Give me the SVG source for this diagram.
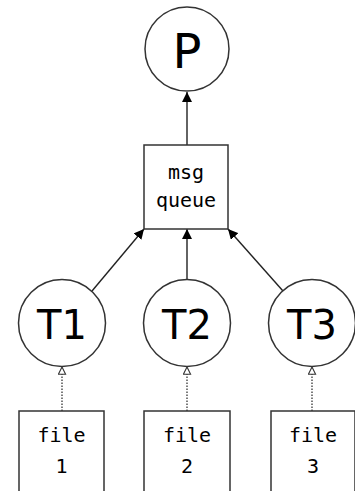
<svg xmlns="http://www.w3.org/2000/svg" width="355" height="491" viewBox="0 0 355 491">
<defs>
<style>
.node{fill:#fff;stroke:#333;stroke-width:1.5}
.big{font-family:"DejaVu Sans",sans-serif;fill:#000;text-anchor:middle;dominant-baseline:central}
.mono{font-family:"DejaVu Sans Mono",monospace;font-size:20px;fill:#000;text-anchor:middle;dominant-baseline:central}
.edge{stroke:#222;stroke-width:1.4;fill:none}
.dot{stroke:#444;stroke-width:1.4;fill:none;stroke-dasharray:1.5 1.5}
</style>
<marker id="solid" viewBox="0 0 10 10" refX="10" refY="5" markerWidth="10" markerHeight="10" markerUnits="userSpaceOnUse" orient="auto">
<path d="M0,0 L10,5 L0,10 Z" fill="#000"/>
</marker>
<marker id="open" viewBox="0 0 10 10" refX="9" refY="5" markerWidth="9" markerHeight="9" markerUnits="userSpaceOnUse" orient="auto">
<path d="M1,1 L9,5 L1,9 Z" fill="#fff" stroke="#333" stroke-width="1.2"/>
</marker>
</defs>
<rect width="355" height="491" fill="#fff"/>
<g id="connectors">
<line class="edge" x1="187" y1="145" x2="187" y2="92" marker-end="url(#solid)"/>
<line class="edge" x1="92" y1="291" x2="144" y2="229" marker-end="url(#solid)"/>
<line class="edge" x1="187" y1="280" x2="187" y2="229" marker-end="url(#solid)"/>
<line class="edge" x1="283" y1="291" x2="228" y2="229" marker-end="url(#solid)"/>
<line class="dot" x1="62" y1="411" x2="62" y2="367" marker-end="url(#open)"/>
<line class="dot" x1="187" y1="411" x2="187" y2="367" marker-end="url(#open)"/>
<line class="dot" x1="312" y1="411" x2="312" y2="367" marker-end="url(#open)"/>
</g>
<g id="P">
<circle class="node" cx="187" cy="49" r="42"/>
<text class="big" x="187" y="51" font-size="48">P</text>
</g>
<g id="msgqueue">
<rect class="node" x="144" y="145" width="84" height="84"/>
<text class="mono" x="186" y="172">msg</text>
<text class="mono" x="186" y="200">queue</text>
</g>
<g id="T1">
<circle class="node" cx="62" cy="323" r="43.5"/>
<text class="big" x="62" y="325" font-size="40">T1</text>
</g>
<g id="T2">
<circle class="node" cx="187" cy="323" r="43.5"/>
<text class="big" x="187" y="325" font-size="40">T2</text>
</g>
<g id="T3">
<circle class="node" cx="312" cy="323" r="43.5"/>
<text class="big" x="312" y="325" font-size="40">T3</text>
</g>
<g id="file1">
<rect class="node" x="19" y="411" width="85" height="90"/>
<text class="mono" x="61.5" y="435">file</text>
<text class="mono" x="61.5" y="466">1</text>
</g>
<g id="file2">
<rect class="node" x="144" y="411" width="86" height="90"/>
<text class="mono" x="187" y="435">file</text>
<text class="mono" x="187" y="466">2</text>
</g>
<g id="file3">
<rect class="node" x="271" y="411" width="84" height="90"/>
<text class="mono" x="313" y="435">file</text>
<text class="mono" x="313" y="466">3</text>
</g>
</svg>
